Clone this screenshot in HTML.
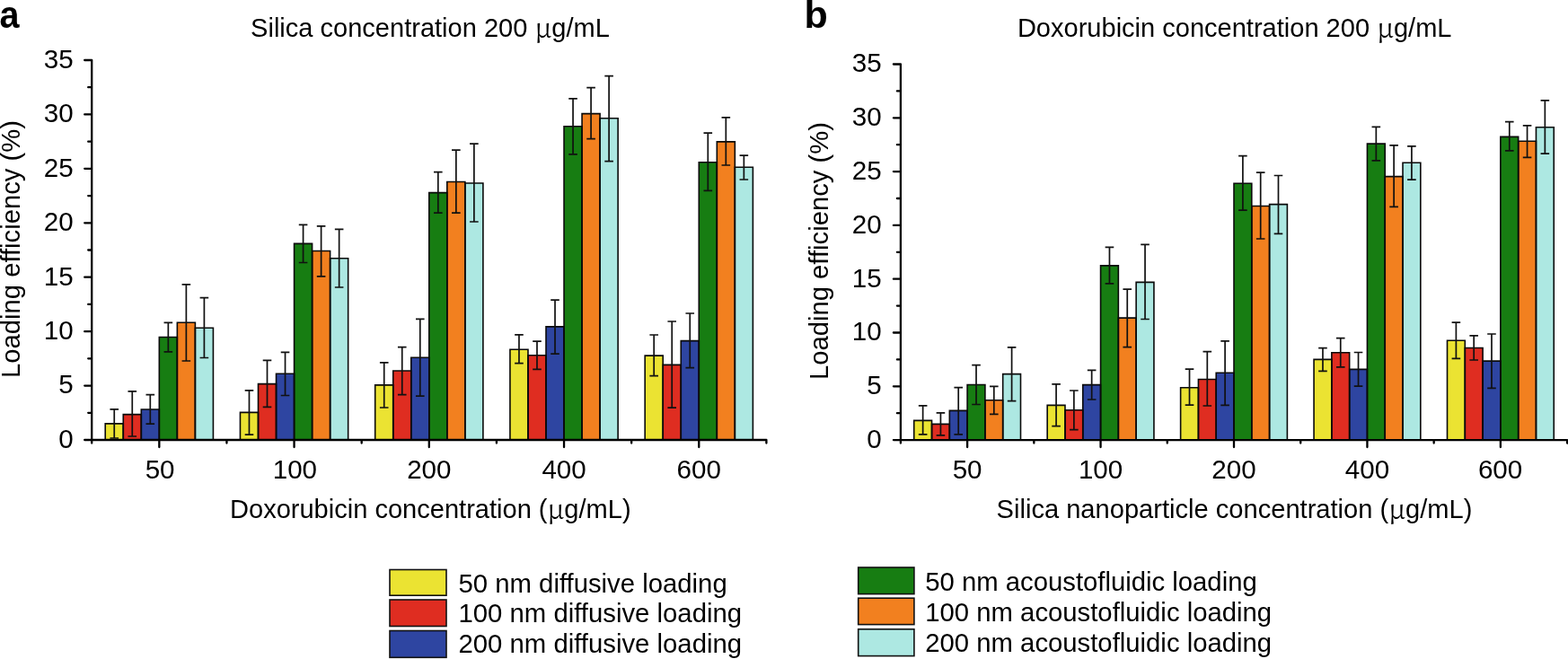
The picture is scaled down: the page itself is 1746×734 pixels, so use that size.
<!DOCTYPE html>
<html><head><meta charset="utf-8"><title>Loading efficiency</title>
<style>
html,body{margin:0;padding:0;background:#fff;}
body{width:1746px;height:734px;overflow:hidden;}
svg{display:block;filter:blur(0.35px);}
text{font-family:'Liberation Sans',Arial,Helvetica,sans-serif;font-size:29px;fill:#000;}
.pl{font-weight:bold;font-size:43px;}
.mu{font-family:'Noto Serif CJK SC','Liberation Serif',serif;font-size:30px;}
.bo{fill:none;stroke:#0a0a0a;stroke-width:1.6;stroke-linejoin:miter;}
.eb{fill:none;stroke:#111;stroke-width:1.7;}
.ax{fill:none;stroke:#000;stroke-width:2.3;stroke-linecap:round;}
.lb{stroke:#111;stroke-width:1.6;}
</style></head>
<body><svg width="1746" height="734" viewBox="0 0 1746 734">
<rect width="1746" height="734" fill="#fff"/>
<rect x="117.22" y="471.9" width="20.03" height="18.1" fill="#EBE332"/>
<rect x="137.26" y="461.6" width="20.03" height="28.4" fill="#DF2D21"/>
<rect x="157.29" y="456" width="20.03" height="34" fill="#2E45A1"/>
<rect x="177.32" y="375.5" width="20.03" height="114.5" fill="#177D12"/>
<rect x="197.35" y="359.3" width="20.03" height="130.7" fill="#F2801F"/>
<rect x="217.38" y="365.2" width="20.03" height="124.8" fill="#ADE8E2"/>
<rect x="267.46" y="459.4" width="20.03" height="30.6" fill="#EBE332"/>
<rect x="287.5" y="427.6" width="20.03" height="62.4" fill="#DF2D21"/>
<rect x="307.53" y="416.2" width="20.03" height="73.8" fill="#2E45A1"/>
<rect x="327.56" y="271.4" width="20.03" height="218.6" fill="#177D12"/>
<rect x="347.59" y="279.5" width="20.03" height="210.5" fill="#F2801F"/>
<rect x="367.62" y="287.7" width="20.03" height="202.3" fill="#ADE8E2"/>
<rect x="417.7" y="428.9" width="20.03" height="61.1" fill="#EBE332"/>
<rect x="437.74" y="413" width="20.03" height="77" fill="#DF2D21"/>
<rect x="457.77" y="398.2" width="20.03" height="91.8" fill="#2E45A1"/>
<rect x="477.8" y="214.6" width="20.03" height="275.4" fill="#177D12"/>
<rect x="497.83" y="202.5" width="20.03" height="287.5" fill="#F2801F"/>
<rect x="517.86" y="204" width="20.03" height="286" fill="#ADE8E2"/>
<rect x="567.94" y="389.2" width="20.03" height="100.8" fill="#EBE332"/>
<rect x="587.98" y="395.8" width="20.03" height="94.2" fill="#DF2D21"/>
<rect x="608.01" y="363.9" width="20.03" height="126.1" fill="#2E45A1"/>
<rect x="628.04" y="140.8" width="20.03" height="349.2" fill="#177D12"/>
<rect x="648.07" y="126.6" width="20.03" height="363.4" fill="#F2801F"/>
<rect x="668.1" y="131.8" width="20.03" height="358.2" fill="#ADE8E2"/>
<rect x="718.18" y="396.1" width="20.03" height="93.9" fill="#EBE332"/>
<rect x="738.22" y="406.4" width="20.03" height="83.6" fill="#DF2D21"/>
<rect x="758.25" y="379.6" width="20.03" height="110.4" fill="#2E45A1"/>
<rect x="778.28" y="180.7" width="20.03" height="309.3" fill="#177D12"/>
<rect x="798.31" y="157.9" width="20.03" height="332.1" fill="#F2801F"/>
<rect x="818.34" y="186.3" width="20.03" height="303.7" fill="#ADE8E2"/>
<path d="M117.22 490V471.9H137.26V490" class="bo"/>
<path d="M137.26 490V461.6H157.29V490" class="bo"/>
<path d="M157.29 490V456H177.32V490" class="bo"/>
<path d="M177.32 490V375.5H197.35V490" class="bo"/>
<path d="M197.35 490V359.3H217.38V490" class="bo"/>
<path d="M217.38 490V365.2H237.42V490" class="bo"/>
<path d="M267.46 490V459.4H287.5V490" class="bo"/>
<path d="M287.5 490V427.6H307.53V490" class="bo"/>
<path d="M307.53 490V416.2H327.56V490" class="bo"/>
<path d="M327.56 490V271.4H347.59V490" class="bo"/>
<path d="M347.59 490V279.5H367.62V490" class="bo"/>
<path d="M367.62 490V287.7H387.66V490" class="bo"/>
<path d="M417.7 490V428.9H437.74V490" class="bo"/>
<path d="M437.74 490V413H457.77V490" class="bo"/>
<path d="M457.77 490V398.2H477.8V490" class="bo"/>
<path d="M477.8 490V214.6H497.83V490" class="bo"/>
<path d="M497.83 490V202.5H517.86V490" class="bo"/>
<path d="M517.86 490V204H537.9V490" class="bo"/>
<path d="M567.94 490V389.2H587.98V490" class="bo"/>
<path d="M587.98 490V395.8H608.01V490" class="bo"/>
<path d="M608.01 490V363.9H628.04V490" class="bo"/>
<path d="M628.04 490V140.8H648.07V490" class="bo"/>
<path d="M648.07 490V126.6H668.1V490" class="bo"/>
<path d="M668.1 490V131.8H688.14V490" class="bo"/>
<path d="M718.18 490V396.1H738.22V490" class="bo"/>
<path d="M738.22 490V406.4H758.25V490" class="bo"/>
<path d="M758.25 490V379.6H778.28V490" class="bo"/>
<path d="M778.28 490V180.7H798.31V490" class="bo"/>
<path d="M798.31 490V157.9H818.34V490" class="bo"/>
<path d="M818.34 490V186.3H838.38V490" class="bo"/>
<path d="M127.24 455.8V488M122.44 455.8H132.04M122.44 488H132.04" class="eb"/>
<path d="M147.27 435.9V486M142.47 435.9H152.07M142.47 486H152.07" class="eb"/>
<path d="M167.3 439.6V472.2M162.5 439.6H172.1M162.5 472.2H172.1" class="eb"/>
<path d="M187.34 359.4V391.8M182.54 359.4H192.14M182.54 391.8H192.14" class="eb"/>
<path d="M207.37 316.8V402M202.57 316.8H212.17M202.57 402H212.17" class="eb"/>
<path d="M227.4 331.6V398.5M222.6 331.6H232.2M222.6 398.5H232.2" class="eb"/>
<path d="M277.48 434.8V484.2M272.68 434.8H282.28M272.68 484.2H282.28" class="eb"/>
<path d="M297.51 401.3V453.3M292.71 401.3H302.31M292.71 453.3H302.31" class="eb"/>
<path d="M317.54 392.3V440.5M312.74 392.3H322.34M312.74 440.5H322.34" class="eb"/>
<path d="M337.58 250.4V292.5M332.78 250.4H342.38M332.78 292.5H342.38" class="eb"/>
<path d="M357.61 251.8V307.8M352.81 251.8H362.41M352.81 307.8H362.41" class="eb"/>
<path d="M377.64 255.3V320M372.84 255.3H382.44M372.84 320H382.44" class="eb"/>
<path d="M427.72 403.9V454M422.92 403.9H432.52M422.92 454H432.52" class="eb"/>
<path d="M447.75 386.6V439.6M442.95 386.6H452.55M442.95 439.6H452.55" class="eb"/>
<path d="M467.78 355.3V441.1M462.98 355.3H472.58M462.98 441.1H472.58" class="eb"/>
<path d="M487.82 191.7V237.2M483.02 191.7H492.62M483.02 237.2H492.62" class="eb"/>
<path d="M507.85 167.2V237.2M503.05 167.2H512.65M503.05 237.2H512.65" class="eb"/>
<path d="M527.88 160.1V247M523.08 160.1H532.68M523.08 247H532.68" class="eb"/>
<path d="M577.96 372.8V404.7M573.16 372.8H582.76M573.16 404.7H582.76" class="eb"/>
<path d="M597.99 380.1V411.3M593.19 380.1H602.79M593.19 411.3H602.79" class="eb"/>
<path d="M618.02 334.2V394.1M613.22 334.2H622.82M613.22 394.1H622.82" class="eb"/>
<path d="M638.06 109.8V171.8M633.26 109.8H642.86M633.26 171.8H642.86" class="eb"/>
<path d="M658.09 97.6V154.6M653.29 97.6H662.89M653.29 154.6H662.89" class="eb"/>
<path d="M678.12 84.7V179.6M673.32 84.7H682.92M673.32 179.6H682.92" class="eb"/>
<path d="M728.2 373V418.7M723.4 373H733M723.4 418.7H733" class="eb"/>
<path d="M748.23 358V454.2M743.43 358H753.03M743.43 454.2H753.03" class="eb"/>
<path d="M768.26 349V409.6M763.46 349H773.06M763.46 409.6H773.06" class="eb"/>
<path d="M788.3 148.1V212.3M783.5 148.1H793.1M783.5 212.3H793.1" class="eb"/>
<path d="M808.33 130.9V184M803.53 130.9H813.13M803.53 184H813.13" class="eb"/>
<path d="M828.36 173.2V200M823.56 173.2H833.16M823.56 200H833.16" class="eb"/>
<path d="M102.2 67V493.5M94.2 490H853.4M94.2 490H102.2M98.2 459.79H102.2M94.2 429.57H102.2M98.2 399.36H102.2M94.2 369.14H102.2M98.2 338.93H102.2M94.2 308.71H102.2M98.2 278.5H102.2M94.2 248.29H102.2M98.2 218.07H102.2M94.2 187.86H102.2M98.2 157.64H102.2M94.2 127.43H102.2M98.2 97.21H102.2M94.2 67H102.2M102.2 490V493.5M177.32 490V498M252.44 490V493.5M327.56 490V498M402.68 490V493.5M477.8 490V498M552.92 490V493.5M628.04 490V498M703.16 490V493.5M778.28 490V498M853.4 490V493.5" class="ax"/>
<text transform="translate(81.6 498.9) scale(1.02 1.04)" text-anchor="end">0</text>
<text transform="translate(81.6 438.47) scale(1.02 1.04)" text-anchor="end">5</text>
<text transform="translate(81.6 378.04) scale(1.02 1.04)" text-anchor="end">10</text>
<text transform="translate(81.6 317.61) scale(1.02 1.04)" text-anchor="end">15</text>
<text transform="translate(81.6 257.19) scale(1.02 1.04)" text-anchor="end">20</text>
<text transform="translate(81.6 196.76) scale(1.02 1.04)" text-anchor="end">25</text>
<text transform="translate(81.6 136.33) scale(1.02 1.04)" text-anchor="end">30</text>
<text transform="translate(81.6 75.9) scale(1.02 1.04)" text-anchor="end">35</text>
<text transform="translate(178.12 533.2) scale(1.02 1.04)" text-anchor="middle">50</text>
<text transform="translate(328.36 533.2) scale(1.02 1.04)" text-anchor="middle">100</text>
<text transform="translate(477.8 533.2) scale(1.02 1.04)" text-anchor="middle">200</text>
<text transform="translate(628.04 533.2) scale(1.02 1.04)" text-anchor="middle">400</text>
<text transform="translate(778.28 533.2) scale(1.02 1.04)" text-anchor="middle">600</text>
<text transform="translate(279.1 40.9) scale(1 1.03)" textLength="399.7" lengthAdjust="spacingAndGlyphs">Silica concentration 200 <tspan class="mu" dy="0.9">μ</tspan><tspan dy="-0.9">g/mL</tspan></text>
<text transform="translate(256 576.6) scale(1 1.03)" textLength="446.6" lengthAdjust="spacingAndGlyphs">Doxorubicin concentration (<tspan class="mu" dy="0.9">μ</tspan><tspan dy="-0.9">g/mL)</tspan></text>
<text transform="translate(21.8 421) rotate(-90) scale(1 1.03)" textLength="287" lengthAdjust="spacingAndGlyphs">Loading efficiency (%)</text>
<text transform="translate(-0.4 31.3) scale(0.92 1)" class="pl">a</text>
<rect x="1017.74" y="468.4" width="19.79" height="21.7" fill="#EBE332"/>
<rect x="1037.54" y="472.4" width="19.79" height="17.7" fill="#DF2D21"/>
<rect x="1057.33" y="457.4" width="19.79" height="32.7" fill="#2E45A1"/>
<rect x="1077.12" y="428.5" width="19.79" height="61.6" fill="#177D12"/>
<rect x="1096.91" y="445.8" width="19.79" height="44.3" fill="#F2801F"/>
<rect x="1116.7" y="416.6" width="19.79" height="73.5" fill="#ADE8E2"/>
<rect x="1166.18" y="451.4" width="19.79" height="38.7" fill="#EBE332"/>
<rect x="1185.98" y="456.7" width="19.79" height="33.4" fill="#DF2D21"/>
<rect x="1205.77" y="428.6" width="19.79" height="61.5" fill="#2E45A1"/>
<rect x="1225.56" y="295.9" width="19.79" height="194.2" fill="#177D12"/>
<rect x="1245.35" y="354.1" width="19.79" height="136" fill="#F2801F"/>
<rect x="1265.14" y="314.4" width="19.79" height="175.7" fill="#ADE8E2"/>
<rect x="1314.62" y="431.7" width="19.79" height="58.4" fill="#EBE332"/>
<rect x="1334.42" y="422.5" width="19.79" height="67.6" fill="#DF2D21"/>
<rect x="1354.21" y="415.2" width="19.79" height="74.9" fill="#2E45A1"/>
<rect x="1374" y="204.2" width="19.79" height="285.9" fill="#177D12"/>
<rect x="1393.79" y="229.5" width="19.79" height="260.6" fill="#F2801F"/>
<rect x="1413.58" y="227.6" width="19.79" height="262.5" fill="#ADE8E2"/>
<rect x="1463.06" y="400.4" width="19.79" height="89.7" fill="#EBE332"/>
<rect x="1482.86" y="392.7" width="19.79" height="97.4" fill="#DF2D21"/>
<rect x="1502.65" y="411.4" width="19.79" height="78.7" fill="#2E45A1"/>
<rect x="1522.44" y="160.1" width="19.79" height="330" fill="#177D12"/>
<rect x="1542.23" y="196.6" width="19.79" height="293.5" fill="#F2801F"/>
<rect x="1562.02" y="181.3" width="19.79" height="308.8" fill="#ADE8E2"/>
<rect x="1611.5" y="379.2" width="19.79" height="110.9" fill="#EBE332"/>
<rect x="1631.3" y="387.5" width="19.79" height="102.6" fill="#DF2D21"/>
<rect x="1651.09" y="402.1" width="19.79" height="88" fill="#2E45A1"/>
<rect x="1670.88" y="152.4" width="19.79" height="337.7" fill="#177D12"/>
<rect x="1690.67" y="157.3" width="19.79" height="332.8" fill="#F2801F"/>
<rect x="1710.46" y="141.7" width="19.79" height="348.4" fill="#ADE8E2"/>
<path d="M1017.74 490.1V468.4H1037.54V490.1" class="bo"/>
<path d="M1037.54 490.1V472.4H1057.33V490.1" class="bo"/>
<path d="M1057.33 490.1V457.4H1077.12V490.1" class="bo"/>
<path d="M1077.12 490.1V428.5H1096.91V490.1" class="bo"/>
<path d="M1096.91 490.1V445.8H1116.7V490.1" class="bo"/>
<path d="M1116.7 490.1V416.6H1136.5V490.1" class="bo"/>
<path d="M1166.18 490.1V451.4H1185.98V490.1" class="bo"/>
<path d="M1185.98 490.1V456.7H1205.77V490.1" class="bo"/>
<path d="M1205.77 490.1V428.6H1225.56V490.1" class="bo"/>
<path d="M1225.56 490.1V295.9H1245.35V490.1" class="bo"/>
<path d="M1245.35 490.1V354.1H1265.14V490.1" class="bo"/>
<path d="M1265.14 490.1V314.4H1284.94V490.1" class="bo"/>
<path d="M1314.62 490.1V431.7H1334.42V490.1" class="bo"/>
<path d="M1334.42 490.1V422.5H1354.21V490.1" class="bo"/>
<path d="M1354.21 490.1V415.2H1374V490.1" class="bo"/>
<path d="M1374 490.1V204.2H1393.79V490.1" class="bo"/>
<path d="M1393.79 490.1V229.5H1413.58V490.1" class="bo"/>
<path d="M1413.58 490.1V227.6H1433.38V490.1" class="bo"/>
<path d="M1463.06 490.1V400.4H1482.86V490.1" class="bo"/>
<path d="M1482.86 490.1V392.7H1502.65V490.1" class="bo"/>
<path d="M1502.65 490.1V411.4H1522.44V490.1" class="bo"/>
<path d="M1522.44 490.1V160.1H1542.23V490.1" class="bo"/>
<path d="M1542.23 490.1V196.6H1562.02V490.1" class="bo"/>
<path d="M1562.02 490.1V181.3H1581.82V490.1" class="bo"/>
<path d="M1611.5 490.1V379.2H1631.3V490.1" class="bo"/>
<path d="M1631.3 490.1V387.5H1651.09V490.1" class="bo"/>
<path d="M1651.09 490.1V402.1H1670.88V490.1" class="bo"/>
<path d="M1670.88 490.1V152.4H1690.67V490.1" class="bo"/>
<path d="M1690.67 490.1V157.3H1710.46V490.1" class="bo"/>
<path d="M1710.46 490.1V141.7H1730.26V490.1" class="bo"/>
<path d="M1027.64 451.9V483.9M1022.84 451.9H1032.44M1022.84 483.9H1032.44" class="eb"/>
<path d="M1047.43 459.8V484.8M1042.63 459.8H1052.23M1042.63 484.8H1052.23" class="eb"/>
<path d="M1067.22 431.7V483.9M1062.42 431.7H1072.02M1062.42 483.9H1072.02" class="eb"/>
<path d="M1087.02 406.7V450.5M1082.22 406.7H1091.82M1082.22 450.5H1091.82" class="eb"/>
<path d="M1106.81 430.3V461.4M1102.01 430.3H1111.61M1102.01 461.4H1111.61" class="eb"/>
<path d="M1126.6 386.8V446.6M1121.8 386.8H1131.4M1121.8 446.6H1131.4" class="eb"/>
<path d="M1176.08 427.9V474.7M1171.28 427.9H1180.88M1171.28 474.7H1180.88" class="eb"/>
<path d="M1195.87 435V478.6M1191.07 435H1200.67M1191.07 478.6H1200.67" class="eb"/>
<path d="M1215.66 412.3V445M1210.86 412.3H1220.46M1210.86 445H1220.46" class="eb"/>
<path d="M1235.46 275.3V315.8M1230.66 275.3H1240.26M1230.66 315.8H1240.26" class="eb"/>
<path d="M1255.25 322.1V386.6M1250.45 322.1H1260.05M1250.45 386.6H1260.05" class="eb"/>
<path d="M1275.04 272.4V355.5M1270.24 272.4H1279.84M1270.24 355.5H1279.84" class="eb"/>
<path d="M1324.52 411.1V451.2M1319.72 411.1H1329.32M1319.72 451.2H1329.32" class="eb"/>
<path d="M1344.31 391.6V452M1339.51 391.6H1349.11M1339.51 452H1349.11" class="eb"/>
<path d="M1364.1 379.9V451.3M1359.3 379.9H1368.9M1359.3 451.3H1368.9" class="eb"/>
<path d="M1383.9 173.6V234.1M1379.1 173.6H1388.7M1379.1 234.1H1388.7" class="eb"/>
<path d="M1403.69 192.2V266M1398.89 192.2H1408.49M1398.89 266H1408.49" class="eb"/>
<path d="M1423.48 195.5V260.3M1418.68 195.5H1428.28M1418.68 260.3H1428.28" class="eb"/>
<path d="M1472.96 387.7V413.4M1468.16 387.7H1477.76M1468.16 413.4H1477.76" class="eb"/>
<path d="M1492.75 376.7V408.9M1487.95 376.7H1497.55M1487.95 408.9H1497.55" class="eb"/>
<path d="M1512.54 392.5V430.2M1507.74 392.5H1517.34M1507.74 430.2H1517.34" class="eb"/>
<path d="M1532.34 141.3V178.9M1527.54 141.3H1537.14M1527.54 178.9H1537.14" class="eb"/>
<path d="M1552.13 161.9V230.4M1547.33 161.9H1556.93M1547.33 230.4H1556.93" class="eb"/>
<path d="M1571.92 162.9V200.2M1567.12 162.9H1576.72M1567.12 200.2H1576.72" class="eb"/>
<path d="M1621.4 359.2V399.3M1616.6 359.2H1626.2M1616.6 399.3H1626.2" class="eb"/>
<path d="M1641.19 373.8V401M1636.39 373.8H1645.99M1636.39 401H1645.99" class="eb"/>
<path d="M1660.98 372V432.4M1656.18 372H1665.78M1656.18 432.4H1665.78" class="eb"/>
<path d="M1680.78 135.7V167.9M1675.98 135.7H1685.58M1675.98 167.9H1685.58" class="eb"/>
<path d="M1700.57 139.8V175.3M1695.77 139.8H1705.37M1695.77 175.3H1705.37" class="eb"/>
<path d="M1720.36 111.8V171.2M1715.56 111.8H1725.16M1715.56 171.2H1725.16" class="eb"/>
<path d="M1002.9 71.5V493.6M994.9 490.1H1745.1M994.9 490.1H1002.9M998.9 460.2H1002.9M994.9 430.3H1002.9M998.9 400.4H1002.9M994.9 370.5H1002.9M998.9 340.6H1002.9M994.9 310.7H1002.9M998.9 280.8H1002.9M994.9 250.9H1002.9M998.9 221H1002.9M994.9 191.1H1002.9M998.9 161.2H1002.9M994.9 131.3H1002.9M998.9 101.4H1002.9M994.9 71.5H1002.9M1002.9 490.1V493.6M1077.12 490.1V498.1M1151.34 490.1V493.6M1225.56 490.1V498.1M1299.78 490.1V493.6M1374 490.1V498.1M1448.22 490.1V493.6M1522.44 490.1V498.1M1596.66 490.1V493.6M1670.88 490.1V498.1M1745.1 490.1V493.6" class="ax"/>
<text transform="translate(981.6 499) scale(1.02 1.04)" text-anchor="end">0</text>
<text transform="translate(981.6 439.2) scale(1.02 1.04)" text-anchor="end">5</text>
<text transform="translate(981.6 379.4) scale(1.02 1.04)" text-anchor="end">10</text>
<text transform="translate(981.6 319.6) scale(1.02 1.04)" text-anchor="end">15</text>
<text transform="translate(981.6 259.8) scale(1.02 1.04)" text-anchor="end">20</text>
<text transform="translate(981.6 200) scale(1.02 1.04)" text-anchor="end">25</text>
<text transform="translate(981.6 140.2) scale(1.02 1.04)" text-anchor="end">30</text>
<text transform="translate(981.6 80.4) scale(1.02 1.04)" text-anchor="end">35</text>
<text transform="translate(1077.12 533.2) scale(1.02 1.04)" text-anchor="middle">50</text>
<text transform="translate(1225.56 533.2) scale(1.02 1.04)" text-anchor="middle">100</text>
<text transform="translate(1374 533.2) scale(1.02 1.04)" text-anchor="middle">200</text>
<text transform="translate(1522.44 533.2) scale(1.02 1.04)" text-anchor="middle">400</text>
<text transform="translate(1670.58 533.2) scale(1.02 1.04)" text-anchor="middle">600</text>
<text transform="translate(1132.9 40.9) scale(1 1.03)" textLength="483.6" lengthAdjust="spacingAndGlyphs">Doxorubicin concentration 200 <tspan class="mu" dy="0.9">μ</tspan><tspan dy="-0.9">g/mL</tspan></text>
<text transform="translate(1109.6 576.6) scale(1 1.03)" textLength="529.8" lengthAdjust="spacingAndGlyphs">Silica nanoparticle concentration (<tspan class="mu" dy="0.9">μ</tspan><tspan dy="-0.9">g/mL)</tspan></text>
<text transform="translate(922.1 423) rotate(-90) scale(1 1.03)" textLength="286.9" lengthAdjust="spacingAndGlyphs">Loading efficiency (%)</text>
<text transform="translate(895.5 31.3) scale(1 1)" class="pl">b</text>
<rect x="434" y="634.5" width="63" height="28.7" fill="#EBE332" class="lb"/>
<text transform="translate(510.5 660.1) scale(1 1.03)" textLength="299.2" lengthAdjust="spacingAndGlyphs">50 nm diffusive loading</text>
<rect x="434" y="668" width="63" height="29.5" fill="#DF2D21" class="lb"/>
<text transform="translate(510.5 693.4) scale(1 1.03)" textLength="315.6" lengthAdjust="spacingAndGlyphs">100 nm diffusive loading</text>
<rect x="434" y="702.5" width="63" height="29.8" fill="#2E45A1" class="lb"/>
<text transform="translate(510.5 726.6) scale(1 1.03)" textLength="315.6" lengthAdjust="spacingAndGlyphs">200 nm diffusive loading</text>
<rect x="955.7" y="632" width="62.2" height="29.6" fill="#177D12" class="lb"/>
<text transform="translate(1030.3 657.8) scale(1 1.03)" textLength="369.4" lengthAdjust="spacingAndGlyphs">50 nm acoustofluidic loading</text>
<rect x="955.7" y="666.2" width="62.2" height="29.4" fill="#F2801F" class="lb"/>
<text transform="translate(1030.3 692.4) scale(1 1.03)" textLength="385.8" lengthAdjust="spacingAndGlyphs">100 nm acoustofluidic loading</text>
<rect x="955.7" y="700.8" width="62.2" height="29.8" fill="#ADE8E2" class="lb"/>
<text transform="translate(1030.3 726) scale(1 1.03)" textLength="385.8" lengthAdjust="spacingAndGlyphs">200 nm acoustofluidic loading</text>
</svg></body></html>
